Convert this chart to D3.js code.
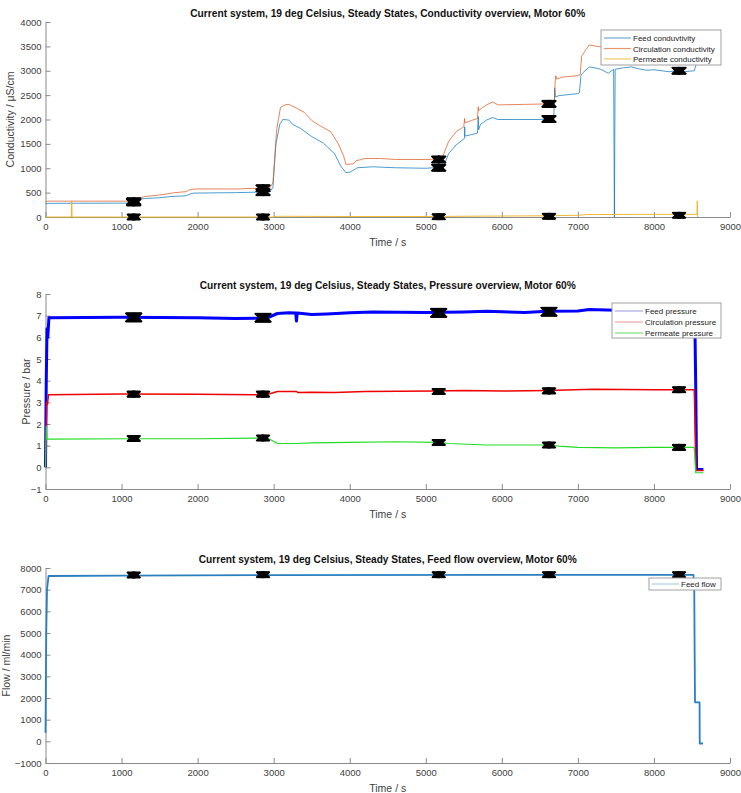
<!DOCTYPE html>
<html>
<head>
<meta charset="utf-8">
<script src="https://cdn.jsdelivr.net/npm/d3@7"></script>
<style>
  body { margin: 0; background: #fff; }
  svg { display: block; font-family: "Liberation Sans", Arial, sans-serif; }
</style>
</head>
<body>
<svg id="chart" width="741" height="793"></svg>
<script>
"use strict";

// ---- data ----
const timeTicks = [0, 1000, 2000, 3000, 4000, 5000, 6000, 7000, 8000, 9000];
const condTicks = [0, 500, 1000, 1500, 2000, 2500, 3000, 3500, 4000];
const pressTicks = [-1, 0, 1, 2, 3, 4, 5, 6, 7, 8];
const flowTicks = [-1000, 0, 1000, 2000, 3000, 4000, 5000, 6000, 7000, 8000];

// steady state windows (centre time, s)
const steadyStates = [1160, 2860, 5170, 6620, 8330];

// conductivity, [time s, uS/cm]
const feedCond = [[0,270],[50,280],[1100,285],[1200,290],[1240,360],[1300,380],[1500,395],[1650,420],[1850,435],[1900,470],[1950,490],[2500,500],[2800,510],[2950,520],[2990,600],[3030,1500],[3080,1900],[3120,2000],[3200,1990],[3250,1900],[3350,1820],[3500,1650],[3650,1520],[3800,1300],[3880,1050],[3950,910],[4000,920],[4050,960],[4100,1010],[4300,1030],[4600,1010],[5000,1000],[5200,1020],[5250,1100],[5300,1300],[5400,1480],[5500,1600],[5510,1620],[5512,1850],[5515,1660],[5600,1690],[5680,1720],[5690,2060],[5695,1790],[5720,1900],[5800,1990],[5880,2040],[5950,2000],[6200,2000],[6500,2000],[6680,2020],[6690,2300],[6695,2650],[6705,2460],[6750,2490],[7000,2530],[7020,2550],[7040,2900],[7060,2950],[7150,3080],[7250,3050],[7300,3030],[7400,2950],[7470,3030],[7480,0],[7490,3030],[7600,3060],[7700,3080],[7800,3040],[7900,3010],[8000,3020],[8200,2980],[8300,3000],[8400,2980],[8530,3000],[8560,3150],[8580,3150]];
const circCond = [[0,310],[30,325],[1200,325],[1240,380],[1300,420],[1500,450],[1700,500],[1850,520],[1880,550],[1950,575],[2500,575],[2800,590],[2950,600],[2990,700],[3040,1800],[3090,2250],[3150,2300],[3200,2310],[3280,2250],[3400,2150],[3500,1980],[3600,1880],[3750,1750],[3850,1500],[3920,1250],[3950,1080],[4050,1090],[4080,1150],[4200,1200],[4400,1200],[4600,1180],[5000,1180],[5210,1190],[5250,1350],[5300,1550],[5400,1750],[5480,1830],[5500,1850],[5510,2020],[5515,1930],[5600,1980],[5680,2020],[5690,2260],[5695,2180],[5750,2250],[5800,2300],[5880,2360],[5950,2300],[6300,2310],[6600,2320],[6690,2340],[6700,2750],[6710,2900],[6720,2830],[6800,2870],[7000,2900],[7030,2920],[7050,3300],[7100,3420],[7150,3530],[7250,3500],[7350,3480],[8570,3480]];
const permCond = [[0,0],[340,0],[345,330],[350,0],[3000,0],[3050,15],[4000,10],[5000,10],[6000,20],[6600,25],[7000,35],[7100,50],[8000,55],[8565,55],[8570,330],[8575,0]];
const feedCondMarks = [300, 510, 1010, 2010, 3000];
const circCondMarks = [320, 590, 1180, 2320, 3480];
const permCondMarks = [0, 0, 5, 15, 35];

// pressure, [time s, bar]
const feedPress = [[0,0],[10,4],[20,6.4],[30,6.0],[45,6.9],[1000,6.93],[2000,6.9],[2500,6.87],[2900,6.88],[2950,6.95],[3050,7.1],[3200,7.13],[3290,7.12],[3300,6.75],[3310,7.12],[3500,7.05],[3700,7.08],[4000,7.13],[4300,7.17],[5000,7.15],[5500,7.17],[5800,7.2],[6000,7.18],[6300,7.15],[6600,7.2],[7000,7.22],[7150,7.28],[7500,7.25],[8500,7.25],[8530,7.2],[8540,6.2],[8550,3.6],[8560,-0.1],[8650,-0.1]];
const circPress = [[0,0],[15,3],[25,2.9],[40,3.35],[1000,3.38],[2000,3.37],[2800,3.35],[2950,3.4],[3050,3.5],[3300,3.5],[3320,3.45],[3500,3.47],[3800,3.45],[4200,3.5],[5100,3.52],[5500,3.55],[6000,3.52],[6600,3.55],[7200,3.6],[8000,3.58],[8530,3.58],[8545,1.3],[8555,-0.15],[8650,-0.15]];
const permPress = [[0,0],[10,1.9],[20,1.3],[1100,1.32],[2000,1.32],[2860,1.35],[2950,1.3],[3050,1.1],[3300,1.1],[3500,1.13],[4000,1.15],[4600,1.18],[5150,1.15],[5300,1.1],[5800,1.03],[6600,1.03],[6750,0.98],[7000,0.92],[7500,0.9],[8000,0.92],[8530,0.92],[8550,-0.25],[8650,-0.25]];
const feedPressMarks = [6.92, 6.9, 7.13, 7.18, 7.25];
const circPressMarks = [3.38, 3.38, 3.5, 3.53, 3.58];
const permPressMarks = [1.33, 1.35, 1.15, 1.03, 0.92];

// feed flow, [time s, ml/min]
const feedFlow = [[0,400],[10,5000],[20,7000],[40,7630],[1000,7650],[3000,7670],[6000,7680],[8520,7680],[8530,7000],[8535,4200],[8540,1800],[8600,1800],[8602,-100],[8645,-100]];
const feedFlowMarks = [7680, 7690, 7690, 7690, 7690];

// ---- drawing ----
const svg = d3.select("#chart");
const xLeft = 45.5, xRight = 730, plotH = 195;
const axisColor = "#8a8a8a";
const textColor = "#404040";

const x = d3.scaleLinear().domain([0, 9000]).range([xLeft, xRight]);

function panel(opt) {
  const y = d3.scaleLinear().domain(opt.yDomain).range([opt.top + plotH, opt.top]);
  const g = svg.append("g");

  const gx = g.append("g")
    .attr("transform", `translate(0,${opt.top + plotH})`)
    .call(d3.axisBottom(x).tickValues(timeTicks).tickFormat(d3.format("d"))
      .tickSize(-5).tickSizeOuter(0).tickPadding(6));
  const gy = g.append("g")
    .attr("transform", `translate(${xLeft},0)`)
    .call(d3.axisLeft(y).tickValues(opt.yTicks).tickFormat(d3.format("d"))
      .tickSize(-5).tickSizeOuter(0).tickPadding(4));
  [gx, gy].forEach(a => {
    a.select(".domain").attr("stroke", axisColor);
    a.selectAll(".tick line").attr("stroke", axisColor);
    a.selectAll(".tick text").attr("fill", textColor).style("font-size", "9.5px");
  });

  g.append("text")
    .attr("x", (xLeft + xRight) / 2).attr("y", opt.top + plotH + 29)
    .attr("text-anchor", "middle").attr("fill", textColor).style("font-size", "10.5px")
    .text("Time / s");

  g.append("text")
    .attr("transform", `translate(${opt.yLabelX},${opt.top + plotH / 2}) rotate(-90)`)
    .attr("text-anchor", "middle").attr("fill", textColor).style("font-size", "10.5px")
    .text(opt.yLabel);

  g.append("text")
    .attr("x", (xLeft + xRight) / 2).attr("y", opt.top - 5)
    .attr("text-anchor", "middle").attr("fill", "#111")
    .style("font-size", "10.5px").style("font-weight", "bold")
    .attr("textLength", opt.titleWidth).attr("lengthAdjust", "spacingAndGlyphs")
    .text(opt.title);

  const line = d3.line().x(d => x(d[0])).y(d => y(d[1]));
  opt.series.forEach(s => {
    g.append("path")
      .datum(s.data)
      .attr("fill", "none")
      .attr("stroke", s.color)
      .attr("stroke-width", s.width)
      .attr("stroke-opacity", s.opacity || 1)
      .attr("stroke-linejoin", "round")
      .attr("d", line);
  });

  // steady-state markers: many small x marks along each window
  opt.series.forEach(s => {
    if (!s.marks) return;
    const h = s.markSize;
    s.marks.forEach((v, i) => {
      const c = steadyStates[i];
      for (let t = c - 50; t <= c + 50; t += 5) {
        g.append("path")
          .attr("transform", `translate(${x(t)},${y(v)})`)
          .attr("d", `M${-h},${-h}L${h},${h}M${-h},${h}L${h},${-h}`)
          .attr("stroke", "#000")
          .attr("stroke-width", 1.5)
          .attr("fill", "none");
      }
    });
  });

  // legend
  const L = opt.legend;
  const lg = g.append("g");
  lg.append("rect")
    .attr("x", L.x).attr("y", L.y).attr("width", L.w).attr("height", L.h)
    .attr("fill", "#fff").attr("stroke", "#a0a0a0").attr("stroke-width", 1);
  opt.series.forEach((s, i) => {
    const ry = L.y + L.first + i * L.step;
    lg.append("line")
      .attr("x1", L.x + 3).attr("x2", L.x + 3 + L.lineLen)
      .attr("y1", ry).attr("y2", ry)
      .attr("stroke", s.legendColor).attr("stroke-width", 1.2);
    lg.append("text")
      .attr("x", L.x + 5 + L.lineLen).attr("y", ry + 3)
      .attr("fill", "#222").style("font-size", "8px")
      .text(s.name);
  });
}

panel({
  top: 22,
  yDomain: [0, 4000],
  yTicks: condTicks,
  yLabel: "Conductivity / \u03bcS/cm",
  yLabelX: 14,
  title: "Current system, 19 deg Celsius, Steady States, Conductivity overview, Motor 60%",
  titleWidth: 395,
  legend: { x: 601, y: 30, w: 120, h: 35, first: 8, step: 10.5, lineLen: 27 },
  series: [
    { name: "Feed conduvtivity", data: feedCond, color: "#0072bd", opacity: 0.7, width: 1, legendColor: "#6aaedb", marks: feedCondMarks, markSize: 3.5 },
    { name: "Circulation conductivity", data: circCond, color: "#d95319", opacity: 0.7, width: 1, legendColor: "#e8946e", marks: circCondMarks, markSize: 3.5 },
    { name: "Permeate conductivity", data: permCond, color: "#edb120", opacity: 0.9, width: 1, legendColor: "#f0c860", marks: permCondMarks, markSize: 3 }
  ]
});

panel({
  top: 294,
  yDomain: [-1, 8],
  yTicks: pressTicks,
  yLabel: "Pressure / bar",
  yLabelX: 30,
  title: "Current system, 19 deg Celsius, Steady States, Pressure overview, Motor 60%",
  titleWidth: 376,
  legend: { x: 612, y: 303, w: 109, h: 35, first: 8, step: 11, lineLen: 28 },
  series: [
    { name: "Feed pressure", data: feedPress, color: "#0000ff", width: 3, legendColor: "#a8a8e6", marks: feedPressMarks, markSize: 4.5 },
    { name: "Circulation pressure", data: circPress, color: "#ee0000", width: 1.5, legendColor: "#eaa8a8", marks: circPressMarks, markSize: 3 },
    { name: "Permeate pressure", data: permPress, color: "#22dd22", width: 1.2, legendColor: "#7ee07e", marks: permPressMarks, markSize: 3 }
  ]
});

panel({
  top: 568,
  yDomain: [-1000, 8000],
  yTicks: flowTicks,
  yLabel: "Flow / ml/min",
  yLabelX: 10,
  title: "Current system, 19 deg Celsius, Steady States, Feed flow overview, Motor 60%",
  titleWidth: 378,
  legend: { x: 649, y: 578, w: 72, h: 12, first: 6, step: 10, lineLen: 27 },
  series: [
    { name: "Feed flow", data: feedFlow, color: "#2a7fc0", width: 1.8, legendColor: "#a8cfe6", marks: feedFlowMarks, markSize: 3 }
  ]
});
</script>
</body>
</html>
